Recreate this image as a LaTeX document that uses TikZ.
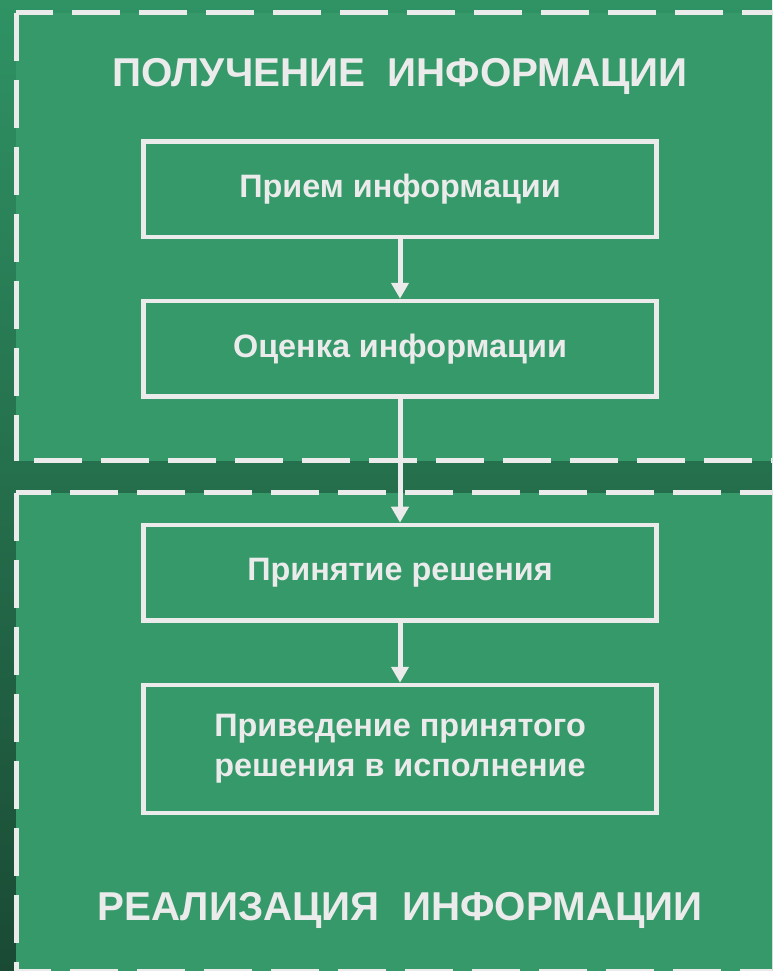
\documentclass[tikz,border=0pt]{standalone}
\usepackage{fontspec}
\setmainfont{Liberation Sans}
\usetikzlibrary{arrows.meta}
\definecolor{zone}{HTML}{36996A}
\definecolor{bgtop}{RGB}{47,147,100}
\definecolor{bgbot}{RGB}{26,74,52}
\definecolor{ink}{HTML}{EBEBEB}

\begin{document}
\begin{tikzpicture}[x=1pt, y=-1pt,
	frame/.style={draw=ink, line width=5pt, dash pattern=on 48pt off 19pt},
	stepbox/.style={draw=ink, line width=4.5pt, minimum width=513pt, minimum height=95.5pt,
		align=center, text=ink, font=\fontsize{32.4}{40}\selectfont\bfseries},
	flow/.style={draw=ink, line width=5pt, -{Triangle[length=16pt, width=17pt]}},
	zonetitle/.style={text=ink, font=\fontsize{40.3}{46}\selectfont\bfseries, anchor=base}]

	\clip (0,0) rectangle (772,971);
	\shade[top color=bgtop, bottom color=bgbot] (0,0) rectangle (772,971);

	% receiving zone
	\fill[zone] (16,13) rectangle (790,460.5);
	\draw[frame, dash phase=11pt] (16,13) -- (790,13);
	\draw[frame] (16,13) -- (16,460.5);
	\draw[frame, dash phase=49pt] (16,460.5) -- (790,460.5);

	% realisation zone
	\fill[zone] (16,492.5) rectangle (790,971.5);
	\draw[frame, dash phase=13pt] (16,492.5) -- (790,492.5);
	\draw[frame] (16,492.5) -- (16,990);
	\draw[frame, dash phase=13pt] (16,971.5) -- (790,971.5);

	\node[zonetitle] (gettitle) at (400,86.7) {ПОЛУЧЕНИЕ\ \ ИНФОРМАЦИИ};
	\node[zonetitle] (usetitle) at (400,920) {РЕАЛИЗАЦИЯ\ \ ИНФОРМАЦИИ};

	\node[stepbox] (receive) at (400,189.1) {Прием информации};
	\node[stepbox] (assess) at (400,348.8) {Оценка информации};
	\node[stepbox] (decide) at (400,572.7) {Принятие решения};
	\node[stepbox, minimum height=128pt] (execute) at (400,749) {Приведение принятого\\решения в исполнение};

	\draw[flow] (receive) -- (assess);
	\draw[flow] (assess) -- (decide);
	\draw[flow] (decide) -- (execute);

\end{tikzpicture}
\end{document}
